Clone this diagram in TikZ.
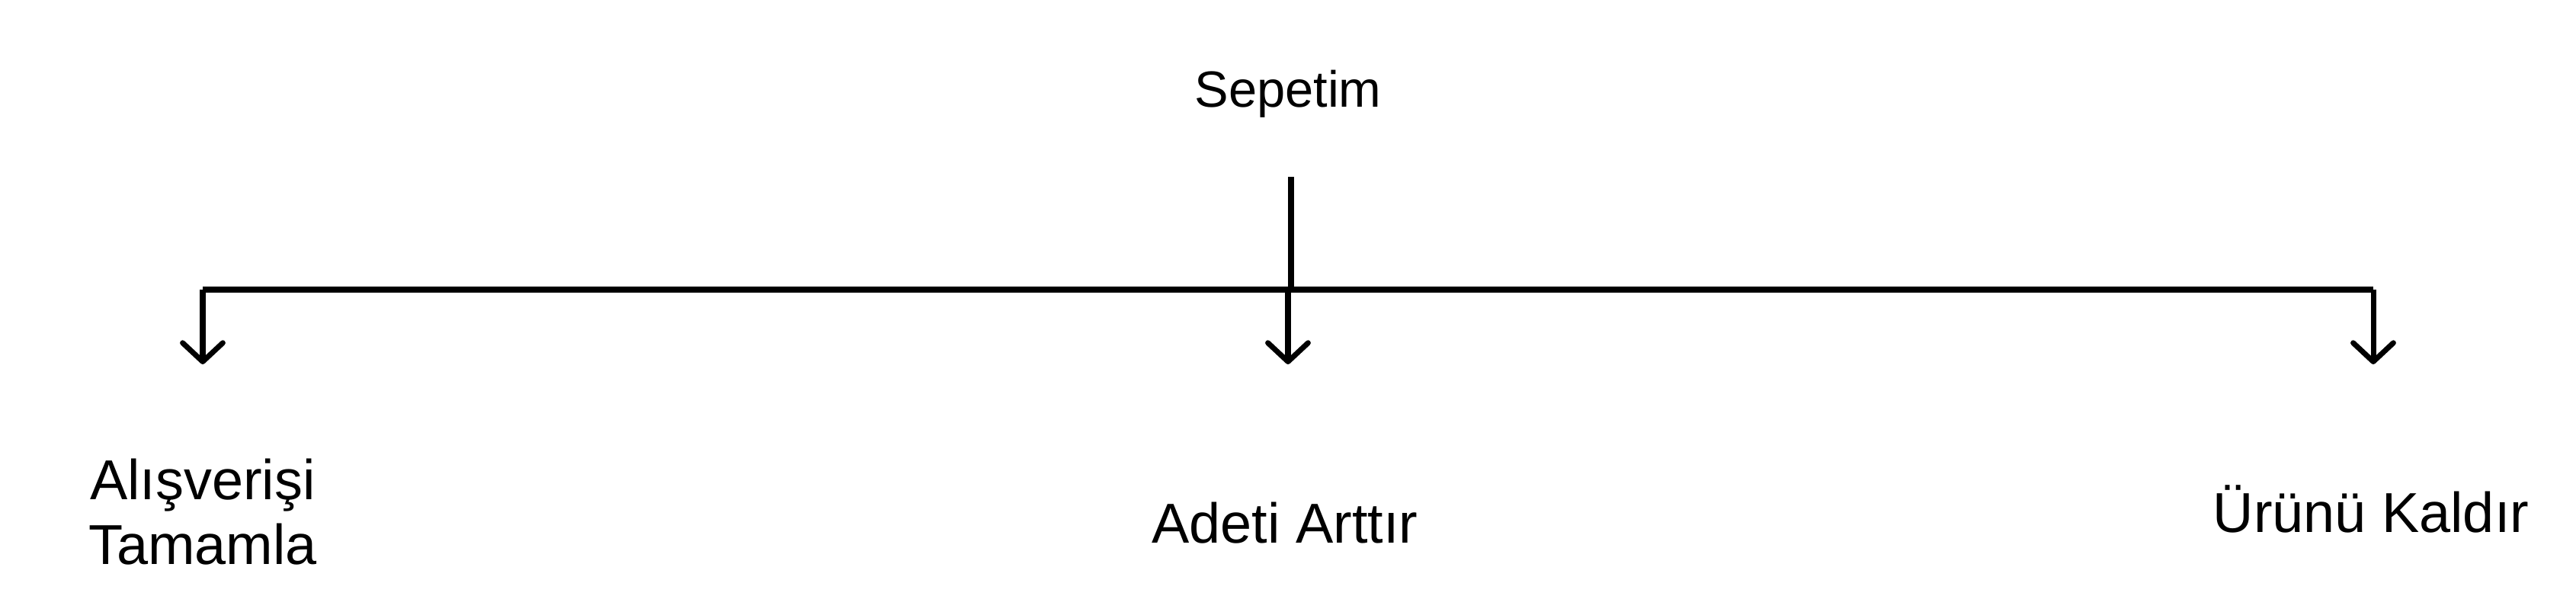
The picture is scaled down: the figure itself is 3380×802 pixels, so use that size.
\documentclass[tikz,border=0pt]{standalone}
\usepackage{fontspec}
\setmainfont{Liberation Sans}
\usetikzlibrary{arrows.meta}
\tikzset{
  lbl/.style={inner sep=0pt, outer sep=0pt, anchor=base, align=center, font=\fontsize{21}{23.9}\selectfont},
  ttl/.style={inner sep=0pt, outer sep=0pt, anchor=base, font=\fontsize{19}{22}\selectfont},
  conn/.style={line width=2pt, line cap=butt},
  arr/.style={conn, -{Straight Barb[length=7pt,width=15pt,round]}}
}
\begin{document}
\begin{tikzpicture}[x=0.01cm,y=-0.01cm]
\useasboundingbox (0,0) rectangle (3380,802);
\node[ttl] (sepetim) at (1690,140) {Sepetim};
\coordinate (top) at (1694,232);
\coordinate (junc) at (1694,380);
\coordinate (left) at (266,380);
\coordinate (mid) at (1690,380);
\coordinate (right) at (3114,380);
\coordinate (tipL) at (266,478);
\coordinate (tipM) at (1690,478);
\coordinate (tipR) at (3114,478);
\node[lbl] (alis) at (266,740) {Alışverişi\\Tamamla};
\node[lbl] (adet) at (1686,712) {Adeti Arttır};
\node[lbl] (urun) at (3111,698) {Ürünü Kaldır};
\draw[conn] (top) -- (junc);
\draw[conn] (left) -- (right);
\draw[arr] (left) -- (tipL);
\draw[arr] (mid) -- (tipM);
\draw[arr] (right) -- (tipR);
\end{tikzpicture}
\end{document}
